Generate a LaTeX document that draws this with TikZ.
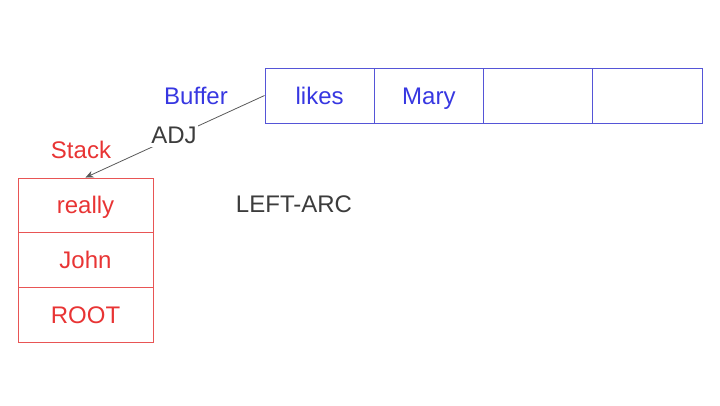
\documentclass[tikz,border=0pt]{standalone}
\usepackage{fontspec}
\setmainfont{Liberation Sans}
\usetikzlibrary{arrows.meta}
\definecolor{bufblue}{RGB}{55,55,225}
\definecolor{bufline}{RGB}{85,85,215}
\definecolor{stkred}{RGB}{232,52,52}
\definecolor{stkline}{RGB}{232,85,85}
\definecolor{darktxt}{RGB}{60,60,60}
\tikzset{
  txt/.style={font=\fontsize{24}{28}\selectfont, inner sep=0pt, text height=19pt, text depth=2pt},
  bufcell/.style={draw=bufline, line width=0.9pt, minimum width=109.25pt, minimum height=55pt, text=bufblue, txt, anchor=center},
  stkcell/.style={draw=stkline, line width=0.9pt, minimum width=135pt, minimum height=54.67pt, text=stkred, txt, anchor=center},
  conn/.style={draw=darktxt!85, line width=0.8pt, -{Stealth[length=8pt,width=7pt]}},
}
\begin{document}
\begin{tikzpicture}[x=1pt,y=-1pt]
\useasboundingbox (0,0) rectangle (720,405);
% buffer
\node[bufcell] (b1) at (319.6,95.5) {likes};
\node[bufcell] (b2) at (428.9,95.5) {Mary};
\node[bufcell] (b3) at (538.1,95.5) {};
\node[bufcell] (b4) at (647.4,95.5) {};
% stack
\node[stkcell] (s1) at (85.5,205.3) {really};
\node[stkcell] (s2) at (85.5,260) {John};
\node[stkcell] (s3) at (85.5,314.7) {ROOT};
% labels
\node[txt, text=bufblue] (buflab) at (196,96) {Buffer};
\node[txt, text=stkred] (stklab) at (81,150) {Stack};
\node[txt, text=darktxt] (op) at (294,204) {LEFT-ARC};
% connector
\draw[conn] (b1.west) -- (s1.north);
\node[txt, text=darktxt, fill=white, inner sep=1pt] (adj) at (174,135) {ADJ};
\end{tikzpicture}
\end{document}
